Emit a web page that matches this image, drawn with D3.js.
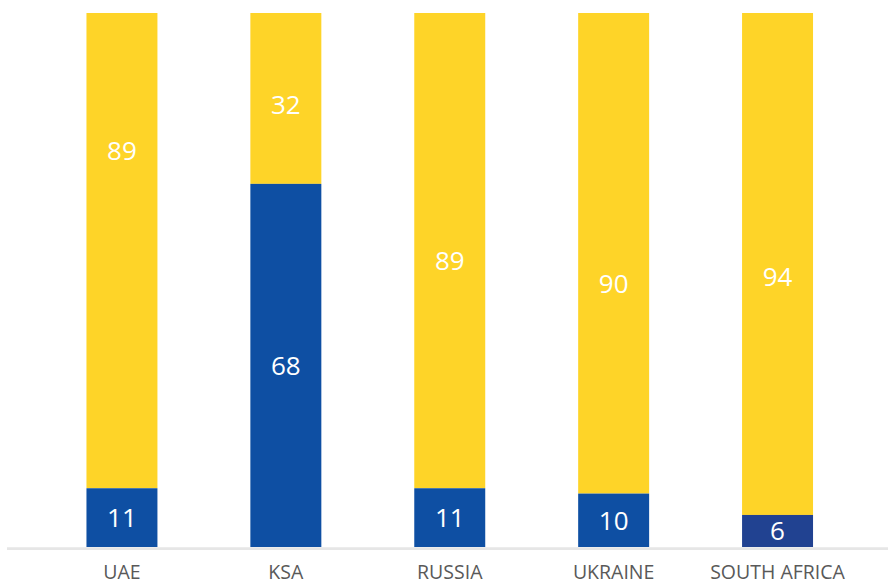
<!DOCTYPE html>
<html>
<head>
<meta charset="utf-8">
<script src="https://cdn.jsdelivr.net/npm/d3@7"></script>
<style>
  html, body { margin: 0; padding: 0; background: #fff; }
  svg { display: block; }
</style>
</head>
<body>
<svg id="chart" width="888" height="585"></svg>
<script>
// ---- data ----
const categories = ["UAE", "KSA", "RUSSIA", "UKRAINE", "SOUTH AFRICA"];
const blueValues = [11, 68, 11, 10, 6];
const yellowValues = [89, 32, 89, 90, 94];
// where each yellow value label sits (in value units on the 0-100 scale)
const yellowLabelAt = [74.3, 82.8, 53.7, 49.4, 50.6];
const blueColors = ["#0e4fa3", "#0e4fa3", "#0e4fa3", "#0e4fa3", "#214291"];
const yellowColor = "#fed428";

const svg = d3.select("#chart");
const font = "'Open Sans', 'Noto Sans', sans-serif";

const x = d3.scaleBand()
  .domain(categories)
  .range([40, 859.5])
  .paddingInner(0.567)
  .paddingOuter(0.2835);

const y = d3.scaleLinear().domain([0, 100]).range([547, 13]);

const rows = categories.map((c, i) => ({
  cat: c, blue: blueValues[i], yellow: yellowValues[i], labelAt: yellowLabelAt[i], blueColor: blueColors[i]
}));

// yellow segments (from blue top to 100)
svg.append("g").selectAll("rect")
  .data(rows).join("rect")
  .attr("x", d => x(d.cat))
  .attr("width", x.bandwidth())
  .attr("y", d => y(d.blue + d.yellow))
  .attr("height", d => y(d.blue) - y(d.blue + d.yellow))
  .attr("fill", yellowColor);

// blue segments
svg.append("g").selectAll("rect")
  .data(rows).join("rect")
  .attr("x", d => x(d.cat))
  .attr("width", x.bandwidth())
  .attr("y", d => y(d.blue))
  .attr("height", d => y(0) - y(d.blue))
  .attr("fill", d => d.blueColor);

// value labels
const labels = svg.append("g")
  .attr("font-family", font)
  .attr("font-size", 26)
  .attr("fill", "#ffffff")
  .attr("text-anchor", "middle");

labels.selectAll("text.b")
  .data(rows).join("text")
  .attr("class", "b")
  .attr("x", d => x(d.cat) + x.bandwidth() / 2)
  .attr("y", d => y(d.blue / 2))
  .attr("dy", "0.36em")
  .text(d => d.blue);

labels.selectAll("text.yl")
  .data(rows).join("text")
  .attr("class", "yl")
  .attr("x", d => x(d.cat) + x.bandwidth() / 2)
  .attr("y", d => y(d.labelAt))
  .attr("dy", "0.36em")
  .text(d => d.yellow);

// baseline axis
svg.append("line")
  .attr("x1", 7).attr("x2", 888)
  .attr("y1", 548.7).attr("y2", 548.7)
  .attr("stroke", "#e6e6e6")
  .attr("stroke-width", 2.8);

// category axis labels
const xAxis = d3.axisBottom(x).tickSize(0).tickPadding(0);
const gx = svg.append("g")
  .attr("transform", "translate(0,579)")
  .call(xAxis);
gx.select(".domain").remove();
gx.selectAll("text")
  .attr("y", 0)
  .attr("dy", 0)
  .attr("font-family", font)
  .attr("font-size", 19.5)
  .attr("fill", "#595959");
</script>
</body>
</html>
